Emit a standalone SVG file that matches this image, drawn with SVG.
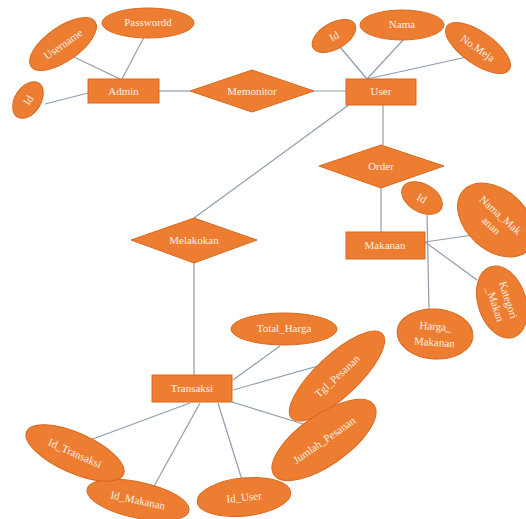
<svg xmlns="http://www.w3.org/2000/svg" width="526" height="519" viewBox="0 0 526 519">
<style>
.s{fill:#ED7D31;stroke:#D9691F;stroke-width:1}
.c line{stroke:#8E9DB0;stroke-width:1.2}
text{font-family:"Liberation Serif","Times New Roman",serif;font-size:11px;fill:#FBEFE6;text-anchor:middle;dominant-baseline:central}
</style>
<rect width="526" height="519" fill="#fff"/>
<g class="c">
<line x1="74" y1="57" x2="120" y2="79"/>
<line x1="144" y1="37" x2="122" y2="79"/>
<line x1="45" y1="104" x2="88" y2="93"/>
<line x1="159" y1="91" x2="190" y2="91"/>
<line x1="313" y1="91" x2="346" y2="91"/>
<line x1="340" y1="47" x2="367" y2="79"/>
<line x1="403" y1="40" x2="367" y2="79"/>
<line x1="467" y1="57" x2="367" y2="79"/>
<line x1="383" y1="104" x2="383" y2="145"/>
<line x1="381" y1="188" x2="381" y2="232"/>
<line x1="427" y1="213" x2="429" y2="310"/>
<line x1="425" y1="242" x2="473" y2="235"/>
<line x1="425" y1="242" x2="477" y2="280"/>
<line x1="350" y1="104" x2="194" y2="218"/>
<line x1="194" y1="263" x2="194" y2="375"/>
<line x1="280" y1="346" x2="233" y2="380"/>
<line x1="325" y1="364" x2="233" y2="390"/>
<line x1="232" y1="402" x2="313" y2="427"/>
<line x1="190" y1="403" x2="90" y2="440"/>
<line x1="200" y1="403" x2="153" y2="488"/>
<line x1="218" y1="403" x2="242" y2="480"/>
</g>
<g id="admin"><rect class="s" x="88" y="79" width="71" height="24"/><text x="123.5" y="91">Admin</text></g>
<g id="passwordd"><ellipse class="s" cx="148" cy="23" rx="46" ry="15"/><text x="148" y="22">Passwordd</text></g>
<g id="username" transform="translate(63,44) rotate(-35)"><ellipse class="s" rx="39" ry="17"/><text>Username</text></g>
<g id="admin-id" transform="translate(28,100) rotate(-58)"><ellipse class="s" rx="20" ry="13"/><text>Id</text></g>
<g id="memonitor"><polygon class="s" points="190,91 252,70 314,91 252,112"/><text x="252" y="91">Memonitor</text></g>
<g id="user"><rect class="s" x="346" y="79" width="70" height="26"/><text x="381" y="91">User</text></g>
<g id="user-id" transform="translate(334,36) rotate(-30)"><ellipse class="s" rx="24" ry="13"/><text>Id</text></g>
<g id="nama"><ellipse class="s" cx="402" cy="25" rx="42" ry="15"/><text x="402" y="24">Nama</text></g>
<g id="nomeja" transform="translate(478,48) rotate(35)"><ellipse class="s" rx="38" ry="16"/><text>No.Meja</text></g>
<g id="order"><polygon class="s" points="319,166 381,145 444,166 381,188"/><text x="381" y="166">Order</text></g>
<g id="makanan"><rect class="s" x="346" y="232" width="79" height="27"/><text x="385" y="245">Makanan</text></g>
<g id="makanan-id" transform="translate(422,198) rotate(30)"><ellipse class="s" rx="22" ry="14"/><text>Id</text></g>
<g id="nama-makanan" transform="translate(496,220) rotate(42)"><ellipse class="s" rx="44" ry="30"/><text y="-7">Nama_Mak</text><text y="7">anan</text></g>
<g id="kategori" transform="translate(502,302) rotate(72)"><ellipse class="s" rx="37" ry="24"/><text y="-7">Kategori</text><text y="7">_Makan</text></g>
<g id="harga-makanan" transform="translate(435,334) rotate(4)"><ellipse class="s" rx="38" ry="25"/><text y="-8">Harga_</text><text y="8">Makanan</text></g>
<g id="melakokan"><polygon class="s" points="131,240 194,218 257,240 194,263"/><text x="194" y="240">Melakokan</text></g>
<g id="transaksi"><rect class="s" x="152" y="375" width="80" height="27"/><text x="192" y="388">Transaksi</text></g>
<g id="total-harga"><ellipse class="s" cx="284" cy="329" rx="53" ry="16"/><text x="284" y="328">Total_Harga</text></g>
<g id="tgl-pesanan" transform="translate(337,376) rotate(-43)"><ellipse class="s" rx="62" ry="21"/><text>Tgl_Pesanan</text></g>
<g id="jumlah-pesanan" transform="translate(324,440) rotate(-35)"><ellipse class="s" rx="61" ry="25"/><text>Jumlah_Pesanan</text></g>
<g id="id-user" transform="translate(244,497) rotate(-6)"><ellipse class="s" rx="47" ry="19"/><text>Id_User</text></g>
<g id="id-makanan" transform="translate(138,500) rotate(12)"><ellipse class="s" rx="52" ry="18"/><text>Id_Makanan</text></g>
<g id="id-transaksi" transform="translate(75,453) rotate(24)"><ellipse class="s" rx="53" ry="20"/><text>Id_Transaksi</text></g>
</svg>
